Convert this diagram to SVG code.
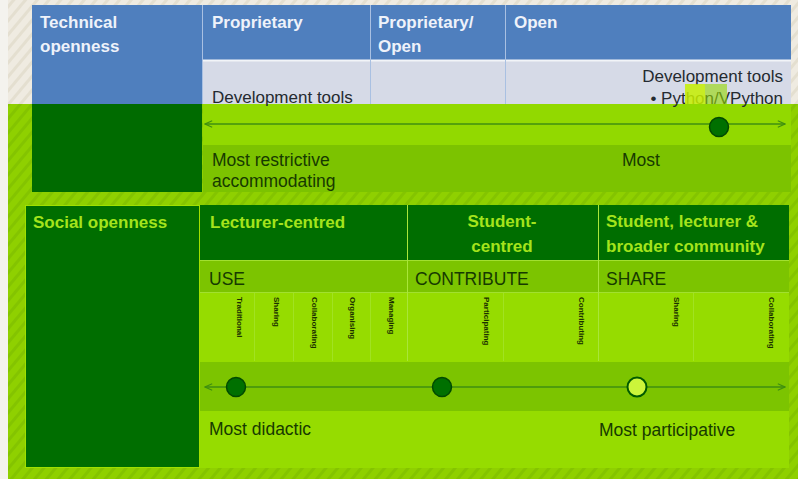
<svg xmlns="http://www.w3.org/2000/svg" width="798" height="479" viewBox="0 0 798 479">
<defs>
<pattern id="beige" width="9" height="9" patternUnits="userSpaceOnUse" patternTransform="rotate(40)"><rect width="9" height="9" fill="#efebe1"/><rect width="3" height="9" fill="#e4dfd0"/></pattern>
<pattern id="lime" width="9" height="9" patternUnits="userSpaceOnUse" patternTransform="rotate(40)"><rect width="9" height="9" fill="#8fd000"/><rect width="3" height="9" fill="#84c400"/></pattern>
<marker id="arr" viewBox="0 0 10 10" refX="9" refY="5" markerUnits="userSpaceOnUse" markerWidth="9" markerHeight="9" orient="auto-start-reverse"><path d="M1,1.5 L9,5 L1,8.5" fill="none" stroke="#3f8f10" stroke-width="1.2"/></marker>
<style>
.hd{font-family:"Liberation Sans",Arial,sans-serif;font-size:17px;font-weight:bold;fill:#eef2fa}
.dk{font-family:"Liberation Sans",Arial,sans-serif;font-size:17px;fill:#252a30}
.gt{font-family:"Liberation Sans",Arial,sans-serif;font-size:17.5px;fill:#163a00}
.lh{font-family:"Liberation Sans",Arial,sans-serif;font-size:17px;font-weight:bold;fill:#a4e41c}
.rl{font-family:"Liberation Sans",Arial,sans-serif;font-size:8px;font-weight:bold;fill:#1a3000}
.vl{stroke:#a9e63a;stroke-width:1}
.conn{stroke:#3f8f10;stroke-width:1.3;fill:none}
.dot{fill:#007000;stroke:#004a00;stroke-width:1.5}
</style>
</defs>
<rect width="798" height="479" fill="#f4f3ee"/>
<rect x="8" y="0" width="790" height="104" fill="url(#beige)"/>
<rect x="8" y="104" width="790" height="375" fill="url(#lime)"/>

<g id="tech-table">
<rect x="32" y="5" width="759" height="55" fill="#4f7fbe"/>
<rect x="32" y="60" width="170" height="44" fill="#4f7fbe"/>
<rect x="203" y="61" width="588" height="43" fill="#d6dae7"/>
<line x1="202" y1="60.5" x2="791" y2="60.5" stroke="#f2f4f8" stroke-width="2"/>
<line x1="202.5" y1="5" x2="202.5" y2="104" stroke="#a9c0e2"/>
<line x1="370.5" y1="5" x2="370.5" y2="104" stroke="#a9c0e2"/>
<line x1="505.5" y1="5" x2="505.5" y2="104" stroke="#a9c0e2"/>
<rect x="32" y="104" width="170" height="88" fill="#006b00"/>
<rect x="203" y="104" width="588" height="41" fill="#92d900"/>
<rect x="203" y="145" width="588" height="47" fill="#7cc300"/>
</g>

<g id="tech-label"><text class="hd" x="40" y="28">Technical</text><text class="hd" x="40" y="52">openness</text></g>
<g id="proprietary"><text class="hd" x="212" y="28">Proprietary</text><text class="dk" x="212" y="103">Development tools</text></g>
<g id="prop-open"><text class="hd" x="378" y="28">Proprietary/</text><text class="hd" x="378" y="52">Open</text></g>
<g id="open"><text class="hd" x="514" y="28">Open</text>
<text class="dk" x="783" y="82" text-anchor="end">Development tools</text>
<text class="dk" x="783" y="104" text-anchor="end">• Python/VPython</text>
<rect x="685" y="84" width="20" height="20" fill="#c6ef00" opacity="0.85"/>
<rect x="705" y="84" width="22" height="20" fill="#95d800" opacity="0.6"/>
</g>
<g id="tech-ends"><text class="gt" x="212" y="166">Most restrictive</text><text class="gt" x="212" y="187">accommodating</text><text class="gt" x="622" y="166">Most</text></g>

<g id="social-table">
<rect x="25.5" y="205.5" width="174" height="262" fill="#006e00" stroke="#a0e000"/>
<rect x="200" y="205" width="589" height="55" fill="#006e00"/>
<rect x="200" y="261" width="589" height="31" fill="#7cc400"/>
<rect x="200" y="292" width="589" height="70" fill="#96dc00"/>
<rect x="200" y="362" width="589" height="49" fill="#7cc400"/>
<rect x="200" y="411" width="589" height="57" fill="#96dc00"/>
<line x1="200" y1="260.5" x2="789" y2="260.5" stroke="#a2e030"/>
<line x1="200" y1="292.5" x2="789" y2="292.5" stroke="#a2e030"/>
<line class="vl" x1="407.5" y1="205" x2="407.5" y2="361"/>
<line class="vl" x1="598.5" y1="205" x2="598.5" y2="361"/>
<line class="vl" x1="254.5" y1="293" x2="254.5" y2="361" opacity="0.6"/>
<line class="vl" x1="293.5" y1="293" x2="293.5" y2="361" opacity="0.6"/>
<line class="vl" x1="332.5" y1="293" x2="332.5" y2="361" opacity="0.6"/>
<line class="vl" x1="370.5" y1="293" x2="370.5" y2="361" opacity="0.6"/>
<line class="vl" x1="503.5" y1="293" x2="503.5" y2="361" opacity="0.6"/>
<line class="vl" x1="693.5" y1="293" x2="693.5" y2="361" opacity="0.6"/>
</g>

<g id="social-label"><text class="lh" x="33" y="228">Social openness</text></g>
<g id="lecturer"><text class="lh" x="210" y="228">Lecturer-centred</text><text class="gt" x="209" y="285">USE</text>
<text class="rl" transform="translate(237,297) rotate(90)">Traditional</text>
<text class="rl" transform="translate(274,297) rotate(90)">Sharing</text>
<text class="rl" transform="translate(312,297) rotate(90)">Collaborating</text>
<text class="rl" transform="translate(350,297) rotate(90)">Organising</text>
<text class="rl" transform="translate(389,297) rotate(90)">Managing</text>
</g>
<g id="student"><text class="lh" x="502" y="227" text-anchor="middle">Student-</text><text class="lh" x="502" y="252" text-anchor="middle">centred</text><text class="gt" x="415" y="285">CONTRIBUTE</text>
<text class="rl" transform="translate(484,297) rotate(90)">Participating</text>
<text class="rl" transform="translate(579,297) rotate(90)">Contributing</text>
</g>
<g id="community"><text class="lh" x="606" y="227">Student, lecturer &amp;</text><text class="lh" x="606" y="252">broader community</text><text class="gt" x="606" y="285">SHARE</text>
<text class="rl" transform="translate(674,297) rotate(90)">Sharing</text>
<text class="rl" transform="translate(769,297) rotate(90)">Collaborating</text>
</g>
<g id="social-ends"><text class="gt" x="209" y="435">Most didactic</text><text class="gt" x="599" y="436">Most participative</text></g>

<g id="connectors">
<line class="conn" x1="205" y1="124" x2="785" y2="124" marker-start="url(#arr)" marker-end="url(#arr)"/>
<line class="conn" x1="205" y1="387" x2="785" y2="387" marker-start="url(#arr)" marker-end="url(#arr)"/>
</g>
<g id="markers">
<circle class="dot" cx="719" cy="127" r="9.5"/>
<circle class="dot" cx="236" cy="387" r="9.5"/>
<circle class="dot" cx="442" cy="387" r="9.5"/>
<circle cx="637" cy="387" r="9.5" fill="#ccf53a" stroke="#005a00" stroke-width="2"/>
</g>
</svg>
